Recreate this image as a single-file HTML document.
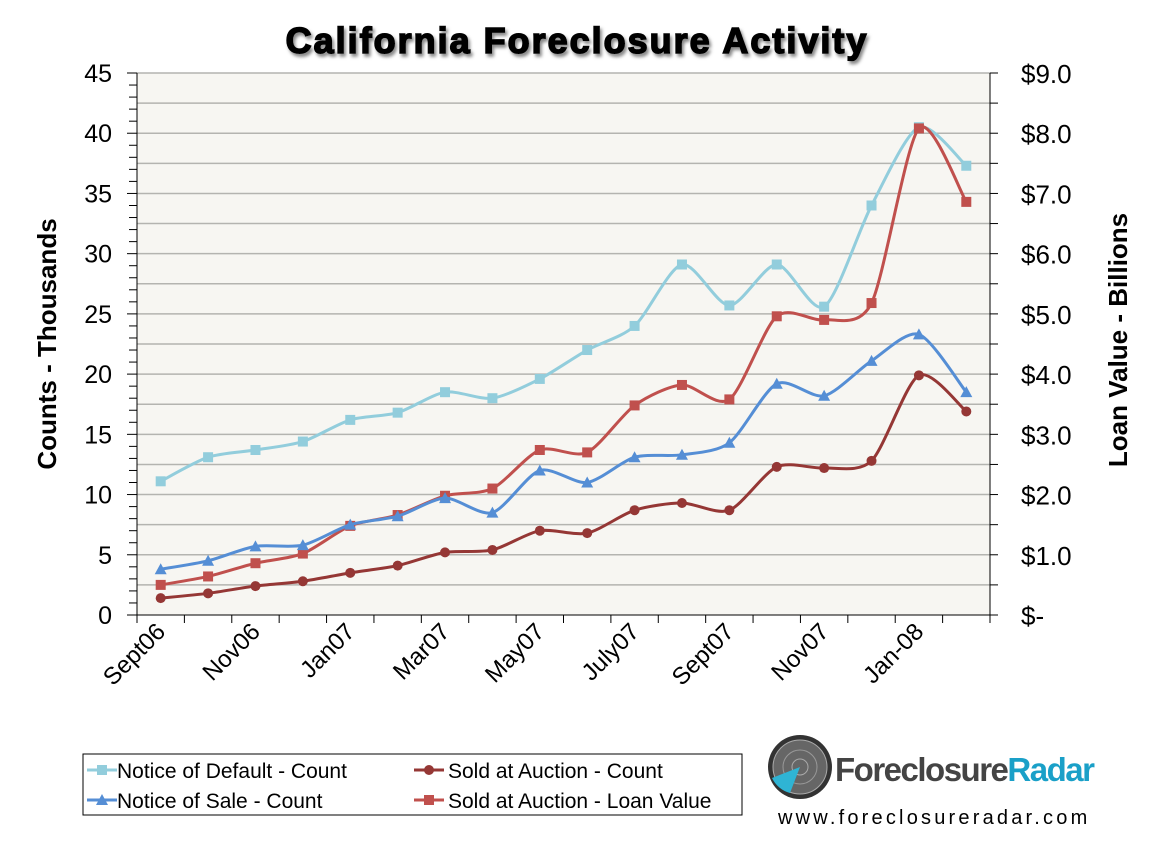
<!DOCTYPE html>
<html><head><style>
body{margin:0;background:#fff;width:1153px;height:848px;overflow:hidden;font-family:"Liberation Sans",sans-serif}
</style></head><body>
<svg id="s" width="1153" height="848" xmlns="http://www.w3.org/2000/svg" font-family="Liberation Sans, sans-serif">
<defs><filter id="sh" x="-5%" y="-20%" width="110%" height="150%"><feDropShadow dx="2" dy="3" stdDeviation="1.5" flood-color="#888"/></filter></defs>
<text x="577" y="53" text-anchor="middle" font-size="36" font-weight="bold" letter-spacing="2" fill="#000" stroke="#000" stroke-width="1.6" filter="url(#sh)">California Foreclosure Activity</text>
<rect x="137" y="73" width="853" height="542" fill="#f7f6f2"/>
<g id="g"></g>
<text transform="translate(56,344) rotate(-90)" text-anchor="middle" font-size="26" font-weight="bold">Counts - Thousands</text>
<text transform="translate(1127,340) rotate(-90)" text-anchor="middle" font-size="26" font-weight="bold">Loan Value - Billions</text>
<rect x="83" y="754" width="659" height="61" fill="#fff" stroke="#000" stroke-width="1"/>
<g id="leg"></g>
<text x="117" y="778" font-size="21">Notice of Default - Count</text>
<text x="117" y="808" font-size="21">Notice of Sale - Count</text>
<text x="448" y="778" font-size="21">Sold at Auction - Count</text>
<text x="448" y="808" font-size="21">Sold at Auction - Loan Value</text>
<circle cx="800" cy="767" r="32" fill="#333"/>
<circle cx="800" cy="767" r="27" fill="#666" stroke="#aaa" stroke-width="1"/>
<circle cx="800" cy="767" r="17" fill="none" stroke="#999"/>
<circle cx="800" cy="767" r="8" fill="none" stroke="#aaa"/>
<path d="M800 767 L772 778 A28 28 0 0 0 790 793 Z" fill="#2fb4d4"/>
<text x="835" y="781" font-size="33" font-weight="bold" fill="#444" letter-spacing="-1.5">Foreclosure<tspan fill="#1aa0c8">Radar</tspan></text>
<text x="778" y="824" font-size="20" letter-spacing="3.2">www.foreclosureradar.com</text>
</svg>
<script>
var NS="http://www.w3.org/2000/svg",g=document.getElementById('g'),lg=document.getElementById('leg');
function el(t,a,p){var e=document.createElementNS(NS,t);for(var k in a)e.setAttribute(k,a[k]);(p||g).appendChild(e);return e}
var L=137,R=990,T=73,B=615,Y=function(v){return B-v*(B-T)/45},X=function(i){return L+(i+0.5)*(R-L)/18};
for(var v=2.5;v<=45.01;v+=2.5)el('line',{x1:L,x2:R,y1:Y(v),y2:Y(v),stroke:'#b4b4b0','stroke-width':1.5});
el('line',{x1:L,x2:L,y1:T,y2:B,stroke:'#000'});el('line',{x1:R,x2:R,y1:T,y2:B,stroke:'#000'});
el('line',{x1:L,x2:R,y1:B,y2:B,stroke:'#000'});
for(var v=0;v<=45;v++){var w=v%5?8:10;el('line',{x1:L-w,x2:L,y1:Y(v),y2:Y(v),stroke:'#000'});}
for(var v=0;v<=45;v+=2.5){el('line',{x1:R,x2:R+8,y1:Y(v),y2:Y(v),stroke:'#000'});}
for(var i=0;i<=18;i++)el('line',{x1:L+i*(R-L)/18,x2:L+i*(R-L)/18,y1:B,y2:B+8,stroke:'#000'});
for(var v=0;v<=45;v+=5){var t=el('text',{x:112,y:Y(v)+9,'text-anchor':'end','font-size':25});t.textContent=v;
var t2=el('text',{x:1021,y:Y(v)+10,'font-size':26});t2.textContent=v?'$'+(v/5).toFixed(1):'$-';}
var labs=['Sept06','Nov06','Jan07','Mar07','May07','July07','Sept07','Nov07','Jan-08'];
labs.forEach(function(s,k){var x=X(2*k)+6,y=B+18;var t=el('text',{transform:'translate('+x+','+y+') rotate(-45)','text-anchor':'end','font-size':24});t.textContent=s;});
var D=[
{c:'#92cddc',m:'s',d:[11.1,13.1,13.7,14.4,16.2,16.8,18.5,18.0,19.6,22.0,24.0,29.1,25.7,29.1,25.6,34.0,40.5,37.3]},
{c:'#c0504d',m:'s',d:[2.5,3.2,4.3,5.1,7.4,8.3,9.9,10.5,13.7,13.5,17.4,19.1,17.9,24.8,24.5,25.9,40.4,34.3]},
{c:'#558ed5',m:'t',d:[3.8,4.5,5.7,5.8,7.5,8.2,9.7,8.5,12.0,11.0,13.1,13.3,14.3,19.2,18.2,21.1,23.3,18.5]},
{c:'#953735',m:'c',d:[1.4,1.8,2.4,2.8,3.5,4.1,5.2,5.4,7.0,6.8,8.7,9.3,8.7,12.3,12.2,12.8,19.9,16.9]}];
function mk(m,x,y,c,p){if(m=='s')el('rect',{x:x-5,y:y-5,width:10,height:10,fill:c},p);
else if(m=='c')el('circle',{cx:x,cy:y,r:5,fill:c},p);else el('path',{d:'M'+x+' '+(y-6)+'L'+(x+6)+' '+(y+5)+'L'+(x-6)+' '+(y+5)+'Z',fill:c},p);}
D.forEach(function(s){var P=s.d.map(function(v,i){return[X(i),Y(v)]});var d='M'+P[0];
for(var i=0;i<P.length-1;i++){var p0=P[i-1]||P[i],p1=P[i],p2=P[i+1],p3=P[i+2]||p2,t=0.4/3;
d+='C'+(p1[0]+(p2[0]-p0[0])*t)+' '+(p1[1]+(p2[1]-p0[1])*t)+' '+(p2[0]-(p3[0]-p1[0])*t)+' '+(p2[1]-(p3[1]-p1[1])*t)+' '+p2[0]+' '+p2[1];}
el('path',{d:d,fill:'none',stroke:s.c,'stroke-width':3});P.forEach(function(p){mk(s.m,p[0],p[1],s.c)});});
[[87,770,0],[87,800,2],[414,770,3],[414,800,1]].forEach(function(a){var s=D[a[2]];el('line',{x1:a[0],x2:a[0]+30,y1:a[1],y2:a[1],stroke:s.c,'stroke-width':3},lg);mk(s.m,a[0]+15,a[1],s.c,lg);});
</script>
</body></html>
